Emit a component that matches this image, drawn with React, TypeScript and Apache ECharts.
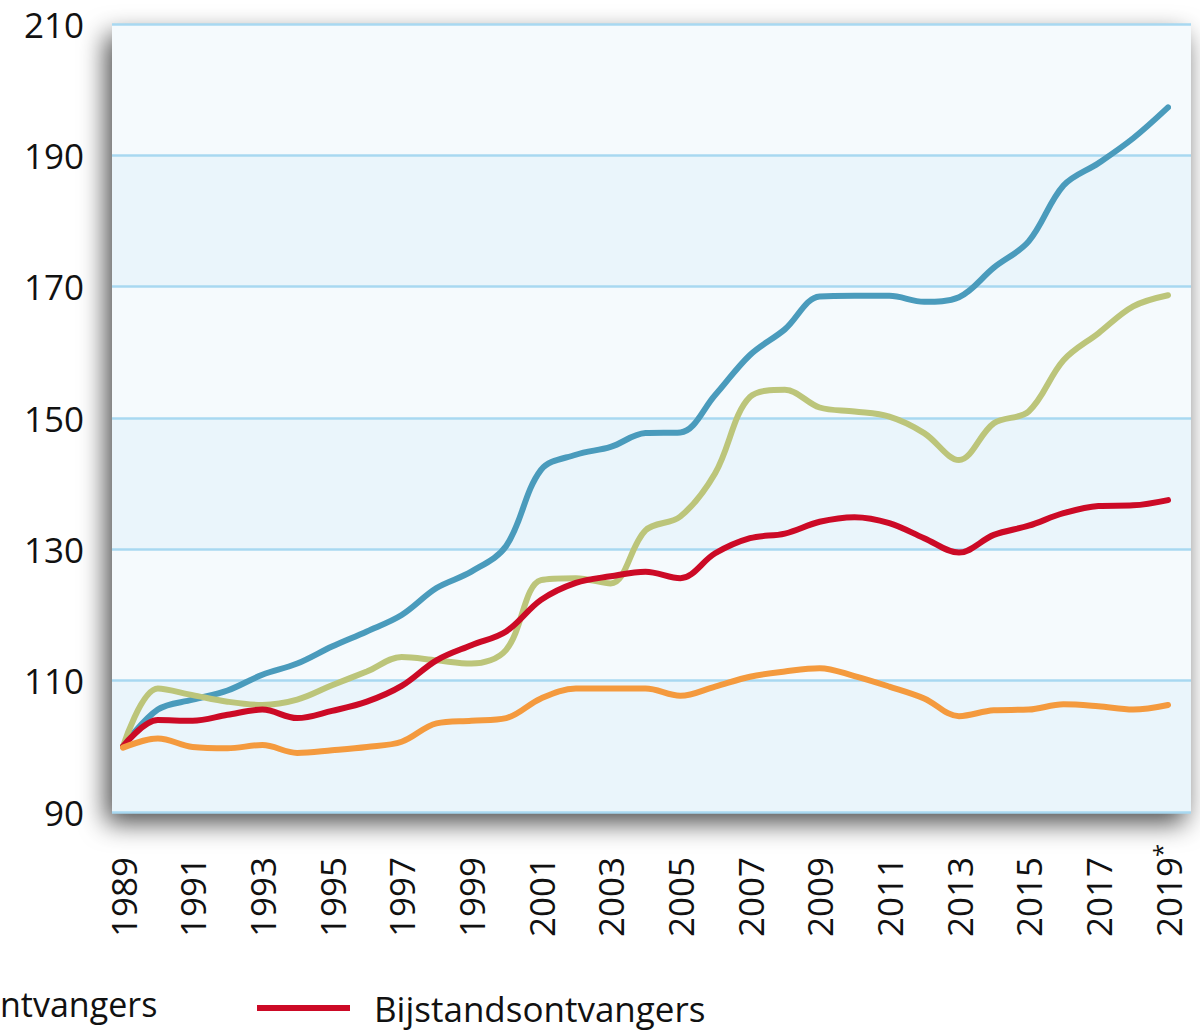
import React, { useEffect, useRef } from "react";
import * as echarts from "echarts";

const years = [
  "1989","1990","1991","1992","1993","1994","1995","1996","1997","1998",
  "1999","2000","2001","2002","2003","2004","2005","2006","2007","2008",
  "2009","2010","2011","2012","2013","2014","2015","2016","2017","2018","2019*",
];

const blueSeries = [
  100, 105.6, 107.1, 108.5, 110.9, 112.6, 115.2, 117.5, 120.0, 124.1,
  126.6, 130.5, 142.1, 144.4, 145.6, 147.7, 147.8, 153.5, 159.6, 163.5,
  168.5, 168.6, 168.6, 167.7, 168.4, 172.9, 176.9, 185.4, 188.8, 192.6, 197.3,
];
const greenSeries = [
  100, 108.8, 107.8, 106.8, 106.3, 107.1, 109.3, 111.4, 113.6, 113.1,
  112.6, 114.7, 125.3, 125.6, 124.8, 132.9, 135.0, 141.6, 153.2, 154.3,
  151.6, 151.0, 150.2, 147.7, 143.6, 149.2, 151.0, 158.8, 162.9, 167.0, 168.7,
];
const redSeries = [
  100, 104.0, 103.9, 104.8, 105.6, 104.3, 105.4, 106.8, 109.2, 113.1,
  115.4, 117.5, 122.3, 124.9, 125.9, 126.6, 125.6, 129.4, 131.7, 132.4,
  134.2, 134.9, 134.0, 131.7, 129.5, 132.2, 133.6, 135.5, 136.6, 136.7, 137.5,
];
const orangeSeries = [
  99.8, 101.2, 99.9, 99.7, 100.2, 99.0, 99.4, 99.9, 100.7, 103.5,
  103.9, 104.3, 107.3, 108.8, 108.8, 108.8, 107.7, 109.1, 110.6, 111.4,
  111.9, 110.7, 109.1, 107.3, 104.6, 105.5, 105.6, 106.4, 106.1, 105.6, 106.3,
];

const yMin = 90;
const yMax = 210;
const yInterval = 20;

const FONT = "'Open Sans', 'Noto Sans', sans-serif";

export default function App() {
  const ref = useRef<HTMLDivElement>(null);

  useEffect(() => {
    document.body.style.margin = "0";
    if (!ref.current) return;
    const chart = echarts.init(ref.current, null, { renderer: "svg" });

    const lineSeries = (name: string, data: number[], color: string) => ({
      name,
      type: "line",
      xAxisIndex: 1,
      yAxisIndex: 1,
      data,
      smooth: 0.35,
      showSymbol: false,
      symbol: "none",
      lineStyle: { color, width: 6, cap: "round" },
      itemStyle: { color },
    });

    chart.setOption({
      animation: false,
      textStyle: { fontFamily: FONT },
      grid: [
        {
          left: 112,
          top: 24,
          width: 1079,
          height: 788,
          show: true,
          backgroundColor: "#f5fafd",
          borderWidth: 0,
          shadowBlur: 26,
          shadowColor: "rgba(0,0,0,0.7)",
          shadowOffsetX: -6,
          shadowOffsetY: 11,
        },
        { left: 123, top: 24, width: 1045, height: 788 },
      ],
      xAxis: [
        {
          type: "value",
          gridIndex: 0,
          min: 0,
          max: 1,
          show: false,
        },
        {
          type: "category",
          gridIndex: 1,
          data: years,
          boundaryGap: false,
          axisLine: { show: false },
          axisTick: { show: false },
          splitLine: { show: false },
          axisLabel: {
            interval: 1,
            rotate: 90,
            margin: 32,
            color: "#111",
            fontSize: 35,
            fontFamily: FONT,
            formatter: (v: string) =>
              v.endsWith("*") ? "{y|" + v.slice(0, -1) + "}{s|*}" : "{y|" + v + "}{s| }",
            rich: {
              y: { fontSize: 35, fontFamily: FONT, color: "#111" },
              s: {
                fontSize: 24,
                fontFamily: FONT,
                color: "#111",
                width: 13,
                align: "left",
                verticalAlign: "top",
                padding: [0, 0, 14, 0],
              },
            },
          },
        },
      ],
      yAxis: [
        {
          type: "value",
          gridIndex: 0,
          min: yMin,
          max: yMax,
          interval: yInterval,
          axisLine: { show: false },
          axisTick: { show: false },
          axisLabel: {
            margin: 28,
            fontSize: 35,
            color: "#111",
            fontFamily: FONT,
          },
          splitLine: { show: true, lineStyle: { color: "#a8d8f1", width: 2.5 } },
          splitArea: { show: true, areaStyle: { color: ["#eaf5fb", "#f5fafd"] } },
        },
        {
          type: "value",
          gridIndex: 1,
          min: yMin,
          max: yMax,
          interval: yInterval,
          show: false,
          splitLine: { show: false },
        },
      ],
      legend: {
        data: ["Bijstandsontvangers"],
        left: 252,
        top: 983,
        itemWidth: 93,
        itemHeight: 6,
        icon: "rect",
        textStyle: {
          fontSize: 35,
          color: "#111",
          fontFamily: FONT,
          lineHeight: 40,
          padding: [0, 0, 0, 19],
        },
      },
      graphic: [
        {
          type: "text",
          left: 0,
          top: 984,
          style: {
            text: "ntvangers",
            fontSize: 34,
            fontFamily: FONT,
            fill: "#111",
            lineHeight: 40,
          },
        },
      ],
      series: [
        lineSeries("Blauw", blueSeries, "#4a9bbc"),
        lineSeries("Groen", greenSeries, "#bcc57a"),
        lineSeries("Bijstandsontvangers", redSeries, "#cc0a26"),
        lineSeries("Oranje", orangeSeries, "#f49a3e"),
      ],
    });

    return () => chart.dispose();
  }, []);

  return <div ref={ref} style={{ width: 1200, height: 1031 }} />;
}
